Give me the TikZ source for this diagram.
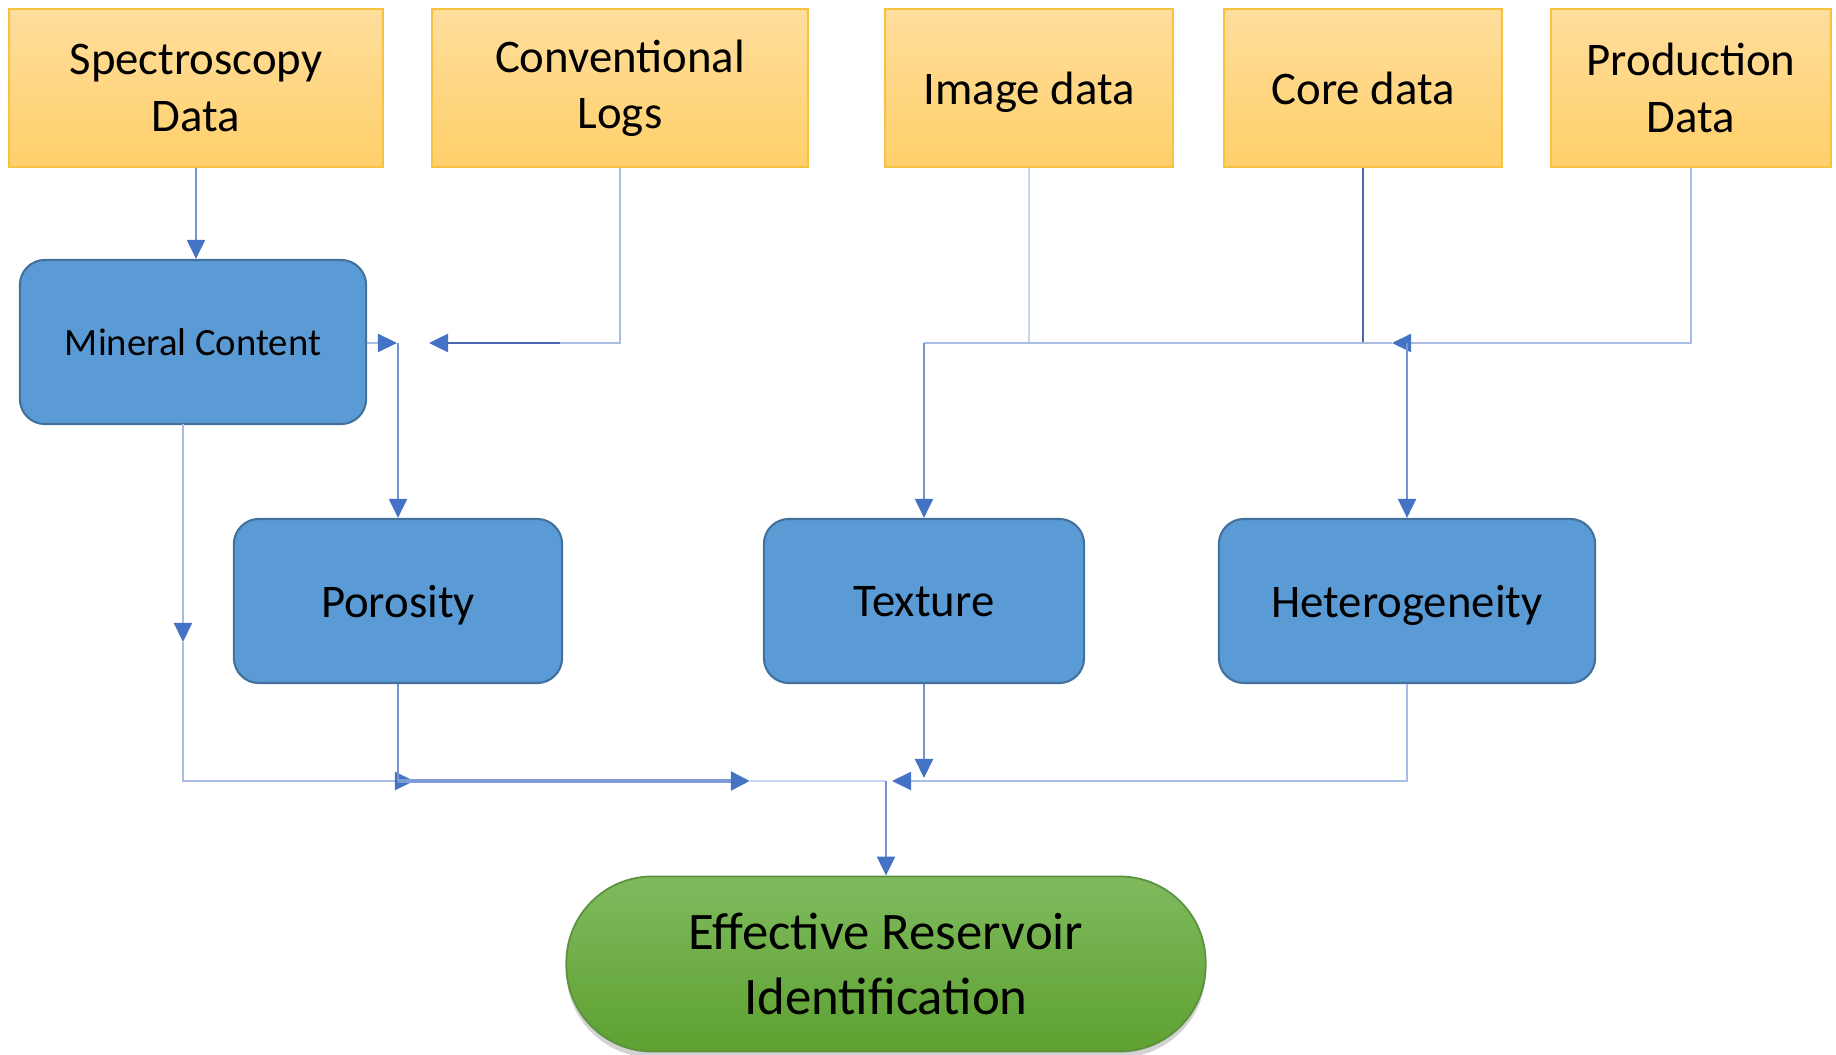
\documentclass[tikz,border=0pt]{standalone}
\usepackage{fontspec}
\setmainfont{Carlito}
\usepackage{xcolor}
\usepackage{tikz}
\usetikzlibrary{calc, arrows.meta, shadows, positioning}

\definecolor{dataTop}{HTML}{FFDD9C}
\definecolor{dataBot}{HTML}{FFD06A}
\definecolor{dataLine}{HTML}{F5C242}
\definecolor{propFill}{HTML}{5B9BD5}
\definecolor{propLine}{HTML}{41719C}
\definecolor{goalTop}{HTML}{7FBA5E}
\definecolor{goalBot}{HTML}{5EA131}
\definecolor{goalLine}{HTML}{5B9140}
\definecolor{arrowBlue}{HTML}{4472C4}
\definecolor{flowBlue}{HTML}{7393D3}
\definecolor{lightBlue}{HTML}{A8BCE4}
\definecolor{paleBlue}{HTML}{C6D4EF}
\definecolor{darkBlue}{HTML}{4A67B0}

\begin{document}
\begin{tikzpicture}[x=0.01cm, y=-0.01cm,
    databox/.style={rectangle, draw=dataLine, line width=0.6pt, top color=dataTop, bottom color=dataBot,
        minimum height=1.58cm, inner sep=0pt, align=center, font=\fontsize{13.3}{16}\selectfont},
    propbox/.style={rectangle, rounded corners=0.25cm, draw=propLine, line width=0.6pt, fill=propFill,
        minimum height=1.64cm, inner sep=0pt, text depth=0pt, align=center, font=\fontsize{13.3}{16}\selectfont},
    goalbox/.style={rectangle, rounded corners=0.86cm, draw=goalLine, line width=0.5pt, top color=goalTop, bottom color=goalBot,
        minimum width=6.39cm, minimum height=1.75cm, inner sep=0pt, align=center,
        font=\fontsize{15}{18.7}\selectfont,
        drop shadow={shadow xshift=0cm, shadow yshift=-0.06cm, opacity=0.35}},
    arr/.style={-{Triangle[length=0.19cm, width=0.18cm, color=arrowBlue]}},
    flow/.style={draw=flowBlue, line width=0.6pt},
    lightflow/.style={draw=lightBlue, line width=0.6pt},
    paleflow/.style={draw=paleBlue, line width=0.7pt},
    darkflow/.style={draw=darkBlue, line width=0.7pt},
    thickflow/.style={draw=flowBlue!80!lightBlue, line width=1.3pt}]

    \useasboundingbox (0,0) rectangle (1836,1055);

    % 1. Data sources (top row)
    \node[databox, minimum width=3.73cm] (spec)  at (196,88)  {Spectroscopy\\Data};
    \node[databox, minimum width=3.76cm] (logs)  at (620,88)  {Conventional\\Logs};
    \node[databox, minimum width=2.87cm, text depth=0pt] (image) at (1029,88) {Image data};
    \node[databox, minimum width=2.78cm] (core)  at (1363,88) {Core data};
    \node[databox, minimum width=2.79cm] (prod)  at (1691,88) {Production\\Data};

    % 2. Reservoir properties
    \node[propbox, minimum width=3.46cm, font=\fontsize{11}{13}\selectfont] (mineral) at (193,342) {Mineral Content};
    \node[propbox, minimum width=3.28cm] (poro)    at (398,601)  {Porosity};
    \node[propbox, minimum width=3.20cm] (texture) at (924,601)  {Texture};
    \node[propbox, minimum width=3.76cm] (hetero)  at (1407,601) {Heterogeneity};

    % 3. Final result
    \node[goalbox] (goal) at (886,964) {Effective Reservoir\\Identification};

    % junction points
    \coordinate (jpor)  at (398,343);
    \coordinate (jtex)  at (924,343);
    \coordinate (jhet)  at (1407,343);
    \coordinate (jgoal) at (886,781);

    % 4. Connectors, left part
    \draw[flow, arr] (spec.south) -- (spec.south |- mineral.north);
    \draw[lightflow, arr] (mineral.east |- jpor) -- ($(jpor)+(-1,0)$);
    \draw[lightflow] (logs.south) |- (560,343);
    \draw[darkflow, arr] (560,343) -- (429,343);
    \draw[flow, arr] (jpor) -- (jpor |- poro.north);
    \draw[lightflow, arr] (183,424) -- (183,642);
    \draw[lightflow, arr] (183,642) -- (183,781) -- (414,781);
    \draw[flow] (poro.south) -- (398,781);
    \draw[thickflow, arr] (398,781) -- (750,781);
    \draw[paleflow] (750,781) -- (jgoal);
    \draw[flow, arr] (jgoal) -- (goal.north);

    % 5. Connectors, right part
    \draw[paleflow] (image.south) -- (image.south |- jtex);
    \draw[darkflow] (core.south) -- (core.south |- jtex);
    \draw[lightflow, arr] (prod.south) |- (1392,343);
    \draw[lightflow] (1392,343) -- (jtex);
    \draw[flow, arr] (jtex) -- (texture.north);
    \draw[flow, arr] (jhet) -- (hetero.north);
    \draw[flow, arr] (texture.south) -- (924,778);
    \draw[lightflow, arr] (hetero.south) |- (892,781);

\end{tikzpicture}
\end{document}
